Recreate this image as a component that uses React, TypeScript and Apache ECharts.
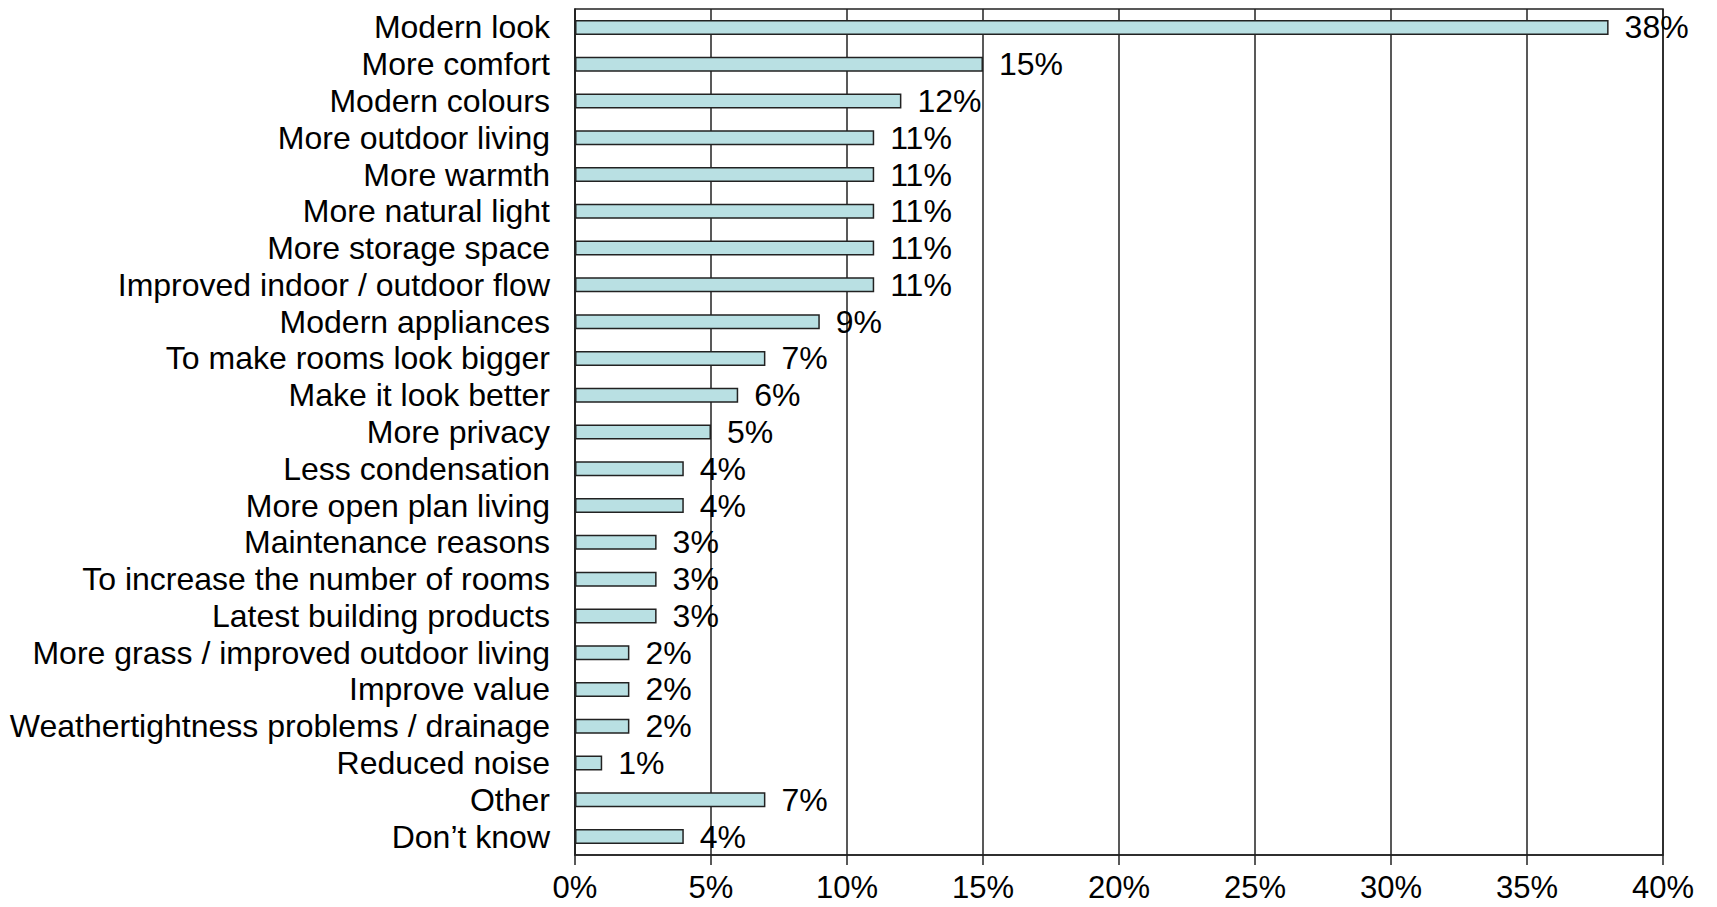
import React, { useEffect, useRef } from "react";
import * as echarts from "echarts";

const categories = [
  "Modern look",
  "More comfort",
  "Modern colours",
  "More outdoor living",
  "More warmth",
  "More natural light",
  "More storage space",
  "Improved indoor / outdoor flow",
  "Modern appliances",
  "To make rooms look bigger",
  "Make it look better",
  "More privacy",
  "Less condensation",
  "More open plan living",
  "Maintenance reasons",
  "To increase the number of rooms",
  "Latest building products",
  "More grass / improved outdoor living",
  "Improve value",
  "Weathertightness problems / drainage",
  "Reduced noise",
  "Other",
  "Don\u2019t know",
];

const values = [38, 15, 12, 11, 11, 11, 11, 11, 9, 7, 6, 5, 4, 4, 3, 3, 3, 2, 2, 2, 1, 7, 4];

const xMin = 0;
const xMax = 40;
const xInterval = 5;

const FONT = "'Liberation Sans', Arial, Helvetica, sans-serif";
const FS = 32;

export default function App() {
  const ref = useRef<HTMLDivElement>(null);
  useEffect(() => {
    if (!ref.current) return;
    const chart = echarts.init(ref.current, undefined, { renderer: "svg" });
    chart.setOption({
      animation: false,
      backgroundColor: "#ffffff",
      textStyle: { fontFamily: FONT },
      grid: {
        left: 575,
        right: 54,
        top: 9,
        bottom: 52,
        containLabel: false,
        show: true,
        borderColor: "#222222",
        borderWidth: 1.5,
      },
      xAxis: {
        type: "value",
        min: xMin,
        max: xMax,
        interval: xInterval,
        axisLine: { show: true, lineStyle: { color: "#222222", width: 1.5 } },
        axisTick: { show: true, length: 10, lineStyle: { color: "#222222", width: 1.5 } },
        splitLine: { show: true, lineStyle: { color: "#222222", width: 1.5 } },
        axisLabel: {
          formatter: "{value}%",
          color: "#000000",
          fontSize: 31,
          fontFamily: FONT,
          margin: 17,
        },
      },
      yAxis: {
        type: "category",
        data: categories,
        inverse: true,
        axisLine: { show: true, lineStyle: { color: "#222222", width: 1.5 } },
        axisTick: { show: false },
        splitLine: { show: false },
        axisLabel: {
          color: "#000000",
          fontSize: FS,
          fontFamily: FONT,
          margin: 25,
          interval: 0,
        },
      },
      series: [
        {
          type: "bar",
          data: values,
          barWidth: 15,
          itemStyle: {
            color: "#b9e0e3",
            borderColor: "#222222",
            borderWidth: 1.5,
          },
          label: {
            show: true,
            position: "right",
            distance: 16,
            formatter: "{c}%",
            color: "#000000",
            fontSize: FS,
            fontFamily: FONT,
          },
        },
      ],
    });
    return () => chart.dispose();
  }, []);
  return (
    <div
      ref={ref}
      style={{ position: "fixed", left: 0, top: 0, width: 1717, height: 907 }}
    />
  );
}
